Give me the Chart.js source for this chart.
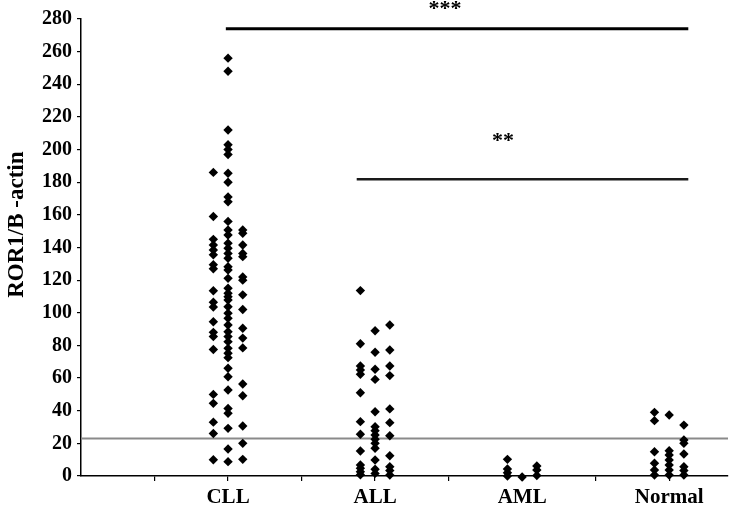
<!DOCTYPE html>
<html>
<head>
<meta charset="utf-8">
<script src="https://cdn.jsdelivr.net/npm/chart.js@4.4.1/dist/chart.umd.min.js"></script>
<style>
  html, body { margin: 0; padding: 0; background: #fff; }
  canvas { display: block; }
</style>
</head>
<body>
<canvas id="myChart" width="744" height="514"></canvas>
<script>
// groups on the x axis (numeric scatter axis, labels at 2, 4, 6, 8)
const categories = ['CLL', 'ALL', 'AML', 'Normal'];
const categoryX = [2, 4, 6, 8];
const columnOffsets = [-0.2, 0, 0.2];

// values read per column (left, middle, right) of each group
const cllLeft = [186, 159, 145, 141.5, 138.5, 135.5, 129.5, 127, 113.5, 106.5, 103.5, 94.5, 88, 85.5, 77.5, 50, 44.5, 33, 26, 10];
const cllMid = [256, 248, 212, 203, 200, 197, 185.5, 180, 171, 168, 156, 150.7, 147.7, 142.6, 139.5, 136.4, 133.4, 128.2, 126.2, 121.1, 115, 111.9, 109.9, 107.8, 103.7, 99.7, 96.6, 92.5, 88.4, 85.4, 82.3, 78.2, 75.2, 72.5, 66, 60.8, 52.7, 41.4, 38.4, 29.2, 16.5, 8.8];
const cllRight = [150.7, 148.7, 141.5, 136.4, 134.4, 122, 120, 111, 102, 90.5, 84.5, 78.5, 56.4, 49.2, 30.6, 20, 10.2];

const allLeft = [113.6, 81, 67.4, 65, 62.3, 51, 33.3, 25.6, 15.3, 6.7, 4.7, 2.6, 0.8];
const allMid = [89, 75.8, 65.4, 59.2, 39.4, 30.2, 27.8, 25.1, 22.5, 20, 17, 9.8, 4.1, 1.6];
const allRight = [92.5, 77.2, 67.4, 61.5, 41.1, 32.7, 24.7, 12.4, 5.7, 3.3, 0.6];

const amlLeft = [10.2, 4.3, 2, 0];
const amlMid = [-0.6];
const amlRight = [6.1, 3.7, 0.3];

const normalLeft = [39, 33.9, 14.9, 7.8, 3.7, 0.6];
const normalMid = [37.4, 15.5, 12.9, 9.8, 6.7, 3.7, 0.6];
const normalRight = [31.2, 22.1, 20, 13.5, 5.7, 3.3, 0.6];

const groupColumns = [
    [cllLeft, cllMid, cllRight],
    [allLeft, allMid, allRight],
    [amlLeft, amlMid, amlRight],
    [normalLeft, normalMid, normalRight]
];

// cut-off and significance bars
const cutoffValue = 23;
const cutoffRange = [0, 8.8];
const sigBarsY = [274, 181.8];
const sigBarsFrom = [1.97, 3.75];
const sigBarsTo = [8.26, 8.26];
const sigLabels = ['***', '**'];
const sigLabelX = [4.95, 5.74];
const sigLabelY = [282.4, 201.6];

const yTicks = [0, 20, 40, 60, 80, 100, 120, 140, 160, 180, 200, 220, 240, 260, 280];
const yTitle = 'ROR1/B -actin';
const yTitleValue = 154; // vertical centre of the axis title, in data units

const serif = '"Liberation Serif", "Times New Roman", serif';

let points = [];
groupColumns.forEach((cols, g) => {
    cols.forEach((vals, c) => {
        vals.forEach(v => {
            points.push({ x: categoryX[g] + columnOffsets[c], y: v });
        });
    });
});

const datasets = [{
    type: 'line',
    data: [{ x: cutoffRange[0], y: cutoffValue }, { x: cutoffRange[1], y: cutoffValue }],
    borderColor: '#8a8a8a',
    borderWidth: 2,
    pointRadius: 0,
    clip: false,
    order: 3
}];
sigBarsY.forEach((y, i) => {
    datasets.push({
        type: 'line',
        data: [{ x: sigBarsFrom[i], y: y }, { x: sigBarsTo[i], y: y }],
        borderColor: i === 0 ? '#000' : '#1a1a1a',
        borderWidth: i === 0 ? 3 : 2.5,
        pointRadius: 0,
        clip: false,
        order: 2
    });
});
datasets.push({
    type: 'scatter',
    data: points,
    pointStyle: 'rectRot',
    pointRadius: 4.7,
    pointBackgroundColor: '#000',
    pointBorderWidth: 0,
    pointHoverRadius: 4.7,
    clip: false,
    order: 1
});

const textPlugin = {
    id: 'texts',
    afterDatasetsDraw(chart) {
        const ctx = chart.ctx;
        const xs = chart.scales.x, ys = chart.scales.y;
        ctx.save();
        ctx.fillStyle = '#000';
        ctx.font = 'bold 22px ' + serif;
        ctx.textAlign = 'center';
        ctx.textBaseline = 'alphabetic';
        sigLabels.forEach((t, i) => {
            ctx.fillText(t, xs.getPixelForValue(sigLabelX[i]), ys.getPixelForValue(sigLabelY[i]));
        });
        // y axis title
        ctx.translate(17, ys.getPixelForValue(yTitleValue));
        ctx.rotate(-Math.PI / 2);
        ctx.font = 'bold 23px ' + serif;
        ctx.textBaseline = 'middle';
        ctx.fillText(yTitle, 0, 0);
        ctx.restore();
    }
};

const ctx = document.getElementById('myChart').getContext('2d');
const chart = new Chart(ctx, {
    type: 'scatter',
    data: { datasets: datasets },
    plugins: [textPlugin],
    options: {
        responsive: false,
        animation: false,
        devicePixelRatio: 1,
        layout: { padding: { top: 19, right: 16, left: 0, bottom: 0 } },
        plugins: { legend: { display: false }, tooltip: { enabled: false } },
        scales: {
            x: {
                type: 'linear',
                min: 0,
                max: 8.8,
                afterBuildTicks: scale => {
                    scale.ticks = scale.ticks.filter(t => Number.isInteger(t.value) && t.value > 0);
                },
                afterFit: scale => { scale.height = 38; },
                ticks: {
                    stepSize: 1,
                    autoSkip: false,
                    maxRotation: 0,
                    padding: 4,
                    color: '#000',
                    font: { family: serif, size: 21, weight: 'bold' },
                    callback: v => {
                        const i = categoryX.indexOf(v);
                        return i >= 0 ? categories[i] : '';
                    }
                },
                grid: { drawOnChartArea: false, drawTicks: true, tickLength: 5, color: '#000', lineWidth: 1.2 },
                border: { display: true, color: '#000', width: 1.5 }
            },
            y: {
                min: 0,
                max: 280,
                afterBuildTicks: scale => {
                    scale.ticks = yTicks.map(v => ({ value: v }));
                },
                afterFit: scale => { scale.width = 81; },
                ticks: {
                    stepSize: 20,
                    padding: 5,
                    color: '#000',
                    font: { family: serif, size: 20, weight: 'bold' }
                },
                grid: { drawOnChartArea: false, drawTicks: true, tickLength: 4, color: '#000', lineWidth: 1.2 },
                border: { display: true, color: '#000', width: 1.5 }
            }
        }
    }
});
</script>
</body>
</html>
